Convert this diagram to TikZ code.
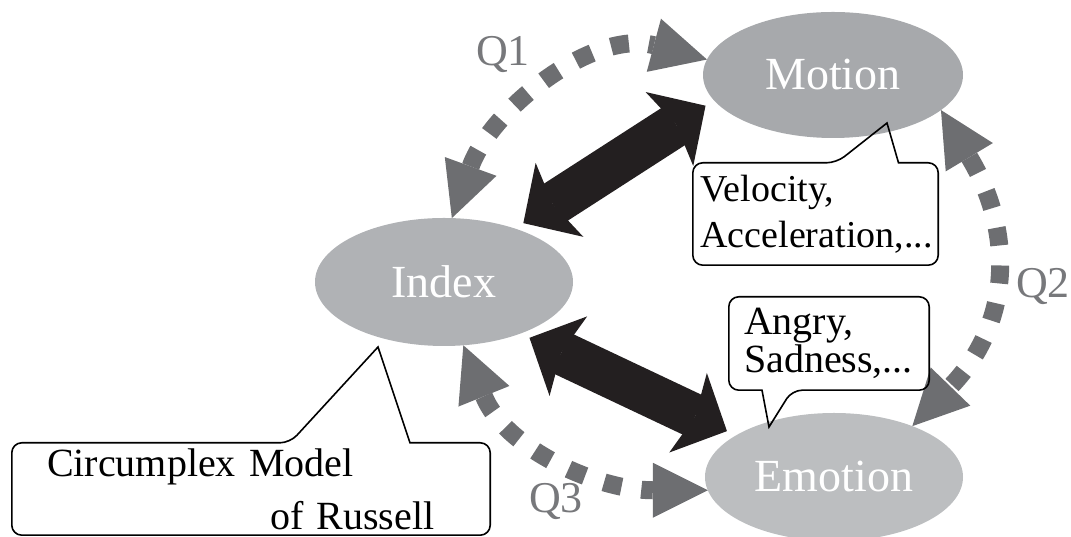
\documentclass[tikz,border=0pt]{standalone}
\usepackage{fontspec}
\setmainfont{Liberation Serif}
\usetikzlibrary{shapes.geometric,arrows.meta}

\definecolor{motiongray}{HTML}{A7A9AC}
\definecolor{indexgray}{HTML}{B0B2B5}
\definecolor{emotiongray}{HTML}{BCBEC0}
\definecolor{dotgray}{HTML}{6D6E71}
\definecolor{qgray}{HTML}{77787B}
\definecolor{arrowblack}{HTML}{231F20}

\begin{document}
\begin{tikzpicture}[x=1pt,y=1pt,
	state/.style={ellipse,minimum width=258pt,minimum height=128pt,inner sep=0pt,outer sep=0pt,text=white,font=\fontsize{46}{52}\selectfont},
	bigarrow/.style={draw=arrowblack,line width=44pt,{Stealth[length=43pt,width=88pt,inset=8pt,line width=0pt]}-{Stealth[length=43pt,width=88pt,inset=8pt,line width=0pt]},shorten <=10pt,shorten >=10pt},
	dotarrow/.style={draw=dotgray,line width=18pt,dash pattern=on 18pt off 20pt,{Triangle[length=55pt,width=55pt,line width=0pt]}-{Triangle[length=55pt,width=55pt,line width=0pt]}},
	qlabel/.style={text=qgray,font=\fontsize{44}{50}\selectfont,inner sep=0pt,anchor=base},
	callout/.style={align=left,inner sep=0pt,font=\fontsize{40}{38}\selectfont},
	calloutline/.style={draw=black,line width=1.6pt}]

	\useasboundingbox (0,0) rectangle (1071,537);

	\node [name=index,state,fill=indexgray] at (444,255) {Index};
	\node [name=motion,state,fill=motiongray,minimum width=260pt,minimum height=126pt] at (833,462) {Motion};
	\node [name=emotion,state,fill=emotiongray] at (834,60) {Emotion};


	\draw [bigarrow] (index.37) -- (motion.192);
	\draw [bigarrow] (index.-34) -- (emotion.157);

	\draw [dotarrow] (index.83) to [out=70,in=165] (motion.173);
	\draw [dotarrow] (motion.-18) to [out=-59,in=46,looseness=1.15] (emotion.33);
	\draw [dotarrow] (index.-73) to [out=-68,in=180] (emotion.186);


	\node [name=q1,qlabel] at (503,471) {Q1};
	\node [name=q2,qlabel] at (1043,239) {Q2};
	\node [name=q3,qlabel] at (556,24) {Q3};


	\coordinate (veltip) at (887,414);
	\coordinate (angrytip) at (769,110);
	\coordinate (russelltip) at (378,190);

	\node [name=velbox,callout,text width=230pt,minimum width=245pt,minimum height=102pt,font=\fontsize{38}{46}\selectfont] at (815.5,323) {Velocity,\\Acceleration,...};
	\node [name=angrybox,callout,text width=170pt,minimum width=200pt,minimum height=93pt] at (829,193.5) {Angry,\\Sadness,...};
	\node [name=russellbox,callout,text width=408pt,minimum width=478pt,minimum height=92pt,font=\fontsize{40}{53}\selectfont] at (251,48) {Circumplex Model\\\hspace*{223pt}of Russell};

	\draw [calloutline] (velbox.west) [rounded corners=10pt] -- (velbox.north west) -- ([xshift=21pt]velbox.north) [sharp corners] -- (veltip) -- ([xshift=83pt]velbox.north) [rounded corners=10pt] -- (velbox.north east) -- (velbox.south east) -- (velbox.south west) -- cycle;
	\draw [calloutline] (angrybox.east) [rounded corners=10pt] -- (angrybox.south east) -- ([xshift=-37pt]angrybox.south) [sharp corners] -- (angrytip) -- ([xshift=-67pt]angrybox.south) [rounded corners=10pt] -- (angrybox.south west) -- (angrybox.north west) -- (angrybox.north east) -- cycle;
	\draw [calloutline] (russellbox.west) [rounded corners=10pt] -- (russellbox.north west) -- ([xshift=39pt]russellbox.north) [sharp corners] -- (russelltip) -- ([xshift=159pt]russellbox.north) [rounded corners=10pt] -- (russellbox.north east) -- (russellbox.south east) -- (russellbox.south west) -- cycle;

\end{tikzpicture}
\end{document}
